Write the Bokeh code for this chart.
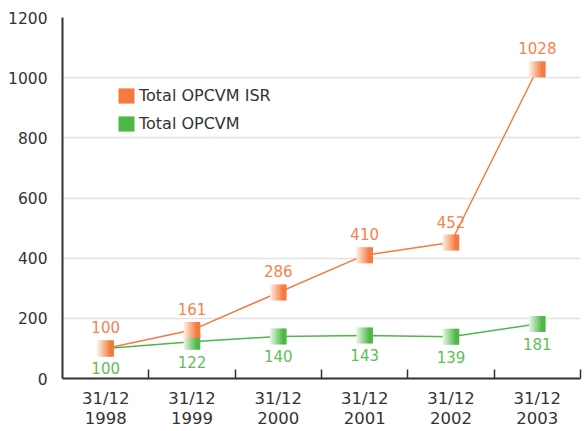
from bokeh.plotting import figure
from bokeh.models import Range1d, FixedTicker, Legend, LegendItem, ColumnDataSource
from bokeh.transform import dodge
from bokeh.core.properties import value
from bokeh.embed import file_html
from bokeh.resources import INLINE

categories = ["31/12\n1998", "31/12\n1999", "31/12\n2000", "31/12\n2001", "31/12\n2002", "31/12\n2003"]
isr_values = [100, 161, 286, 410, 452, 1028]
total_values = [100, 122, 140, 143, 139, 181]
y_ticks = [0, 200, 400, 600, 800, 1000, 1200]
series_names = ["Total OPCVM ISR", "Total OPCVM"]

FONT = "DejaVu Sans"
ORANGE = "#F47B42"
GREEN = "#4DB848"
ORANGE_TXT = "#F5834F"
GREEN_TXT = "#5DBE58"
DARK = "#333333"

n = len(categories)
xs = [i + 0.5 for i in range(n)]
bounds = [i + 1 for i in range(n)]

src = ColumnDataSource(dict(x=xs, isr=isr_values, tot=total_values,
                            isr_lbl=[str(v) for v in isr_values],
                            tot_lbl=[str(v) for v in total_values]))

W, H = 588, 431
ML, MR, MT, MB = 62, 8, 17, 53
p = figure(width=W, height=H, output_backend="svg", toolbar_location=None,
           x_range=Range1d(0, n), y_range=Range1d(y_ticks[0], y_ticks[-1]),
           min_border_left=ML, min_border_right=MR, min_border_top=MT, min_border_bottom=MB)
p.outline_line_color = None
p.background_fill_color = "white"
p.border_fill_color = "white"

# axes
p.xaxis.ticker = FixedTicker(ticks=xs, minor_ticks=bounds)
p.xaxis.major_label_overrides = {x: c for x, c in zip(xs, categories)}
p.xaxis.major_tick_line_color = None
p.xaxis.minor_tick_in = 9
p.xaxis.minor_tick_out = 0
p.xaxis.minor_tick_line_color = DARK
p.xaxis.minor_tick_line_width = 1.5
p.xaxis.axis_line_color = DARK
p.xaxis.axis_line_width = 2
p.xaxis.major_label_text_font = FONT
p.xaxis.major_label_text_font_size = "16.5px"
p.xaxis.major_label_text_line_height = 1.1
p.xaxis.major_label_text_color = DARK
p.xaxis.major_label_standoff = 4

p.yaxis.ticker = FixedTicker(ticks=y_ticks)
p.yaxis.major_tick_line_color = None
p.yaxis.minor_tick_line_color = None
p.yaxis.axis_line_color = DARK
p.yaxis.axis_line_width = 2
p.yaxis.major_label_text_font = FONT
p.yaxis.major_label_text_font_size = "15.5px"
p.yaxis.major_label_text_color = DARK
p.yaxis.major_label_standoff = 9

p.xgrid.grid_line_color = None
p.ygrid.ticker = FixedTicker(ticks=y_ticks)
p.ygrid.grid_line_color = "#e2e2e2"
p.ygrid.grid_line_width = 1.5

# lines
p.line("x", "tot", source=src, line_color=GREEN, line_width=1.5)
p.line("x", "isr", source=src, line_color=ORANGE, line_width=1.5)

# gradient square markers built from thin slices
frame_w = W - ML - MR
unit_per_px = n / frame_w
N = 8
MS = 16
slice_w = MS / N


def mix(c0, c1, t):
    return "#%02x%02x%02x" % tuple(round(a + (b - a) * t) for a, b in zip(c0, c1))


def gradient_marker(field, light, dark):
    rs = []
    for k in range(N):
        off_px = -MS / 2 + slice_w * (k + 0.5)
        t = min(1.0, k / (N - 2))
        rs.append(p.rect(x=dodge("x", off_px * unit_per_px, range=p.x_range), y=field, source=src,
                         width=slice_w + 0.6, height=MS, width_units="screen", height_units="screen",
                         fill_color=mix(light, dark, t), line_color=None))
    return rs


tot_slices = gradient_marker("tot", (224, 241, 221), (77, 184, 72))
isr_slices = gradient_marker("isr", (253, 231, 217), (244, 122, 62))

# value labels
p.text("x", "isr", text="isr_lbl", source=src, text_font=value(FONT), text_font_size="15px",
       text_color=ORANGE_TXT, text_align="center", text_baseline="middle", y_offset=-21)
p.text("x", "tot", text="tot_lbl", source=src, text_font=value(FONT), text_font_size="15px",
       text_color=GREEN_TXT, text_align="center", text_baseline="middle", y_offset=20)

# legend (uses the solid, darkest slice of each marker)
legend = Legend(items=[LegendItem(label=series_names[0], renderers=[isr_slices[-1]]),
                       LegendItem(label=series_names[1], renderers=[tot_slices[-1]])],
                location=(54, 245), orientation="vertical",
                glyph_width=20, glyph_height=19, label_height=19, label_width=20,
                spacing=9, padding=0, margin=0, label_standoff=3,
                label_text_font=FONT, label_text_font_size="16px", label_text_color=DARK,
                border_line_color=None, background_fill_alpha=0)
p.add_layout(legend)

open("out.html", "w").write(file_html(p, INLINE))
